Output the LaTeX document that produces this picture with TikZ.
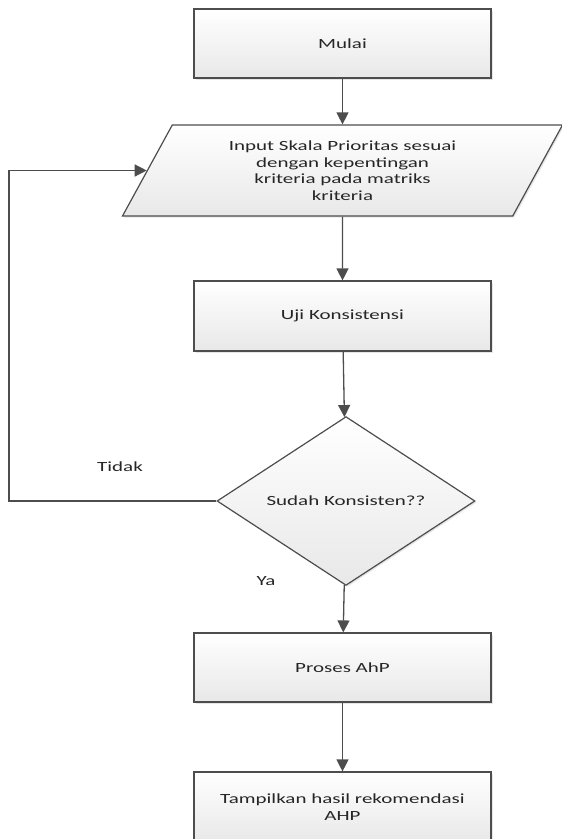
\documentclass[tikz,border=0pt]{standalone}
\usepackage{fontspec}
\setmainfont{Carlito}[FakeStretch=1.5]
\usetikzlibrary{arrows.meta,shapes.geometric,shadows}

\definecolor{flowline}{HTML}{4D4D4D}
\definecolor{flowtext}{HTML}{262626}

\tikzset{
  shape base/.style={draw=flowline, line width=1.2pt, top color=white,
    bottom color=black!9, inner sep=0pt, align=center, text=flowtext,
    drop shadow={shadow xshift=1.5pt, shadow yshift=-1.5pt, opacity=0.2}},
  box/.style={shape base, minimum width=297pt, minimum height=69pt},
  io/.style={shape base, trapezium, trapezium left angle=50,
    trapezium right angle=130, trapezium stretches body,
    minimum width=440pt, minimum height=91pt},
  decision/.style={shape base, diamond, minimum width=258pt,
    minimum height=126pt},
  flow/.style={draw=flowline, line width=1.3pt,
    -{Triangle[width=12pt,length=12pt]}},
  lbl/.style={text=flowtext, inner sep=0pt}
}

\begin{document}
\begin{tikzpicture}[x=1pt, y=-1pt, font=\fontsize{14}{16.5}\selectfont]
  \useasboundingbox (0,0) rectangle (562,839);
  \clip (0,0) rectangle (562,839);

  % The steps, top to bottom.
  \node[box] (mulai) at (342.5,43.5) {Mulai};
  \node[io] (input) at (342.5,170.5)
    {Input Skala Prioritas sesuai\\dengan kepentingan\\kriteria pada matriks\\kriteria};
  \node[box, minimum height=70pt] (uji) at (342.5,316) {Uji Konsistensi};
  \node[decision] (cek) at (346,501) {Sudah Konsisten??};
  \node[box] (proses) at (342.5,667.5) {Proses AhP};
  \node[box, minimum height=70pt] (tampil) at (342.5,807)
    {Tampilkan hasil rekomendasi\\AHP};

  % Connect the steps.
  \draw[flow] (mulai) -- (input);
  \draw[flow] (input) -- (uji);
  \draw[flow] (uji) -- (cek);
  \draw[flow] (cek) -- (proses);
  \draw[flow] (proses) -- (tampil);

  % The way back when the check fails.
  \coordinate (loop) at (9,501);
  \draw[flow] (cek.west) -- (loop) |- (input.west);

  % The labels.
  \node[lbl] (tidak) at (120,467) {Tidak};
  \node[lbl] (ya) at (266,581) {Ya};
\end{tikzpicture}
\end{document}
